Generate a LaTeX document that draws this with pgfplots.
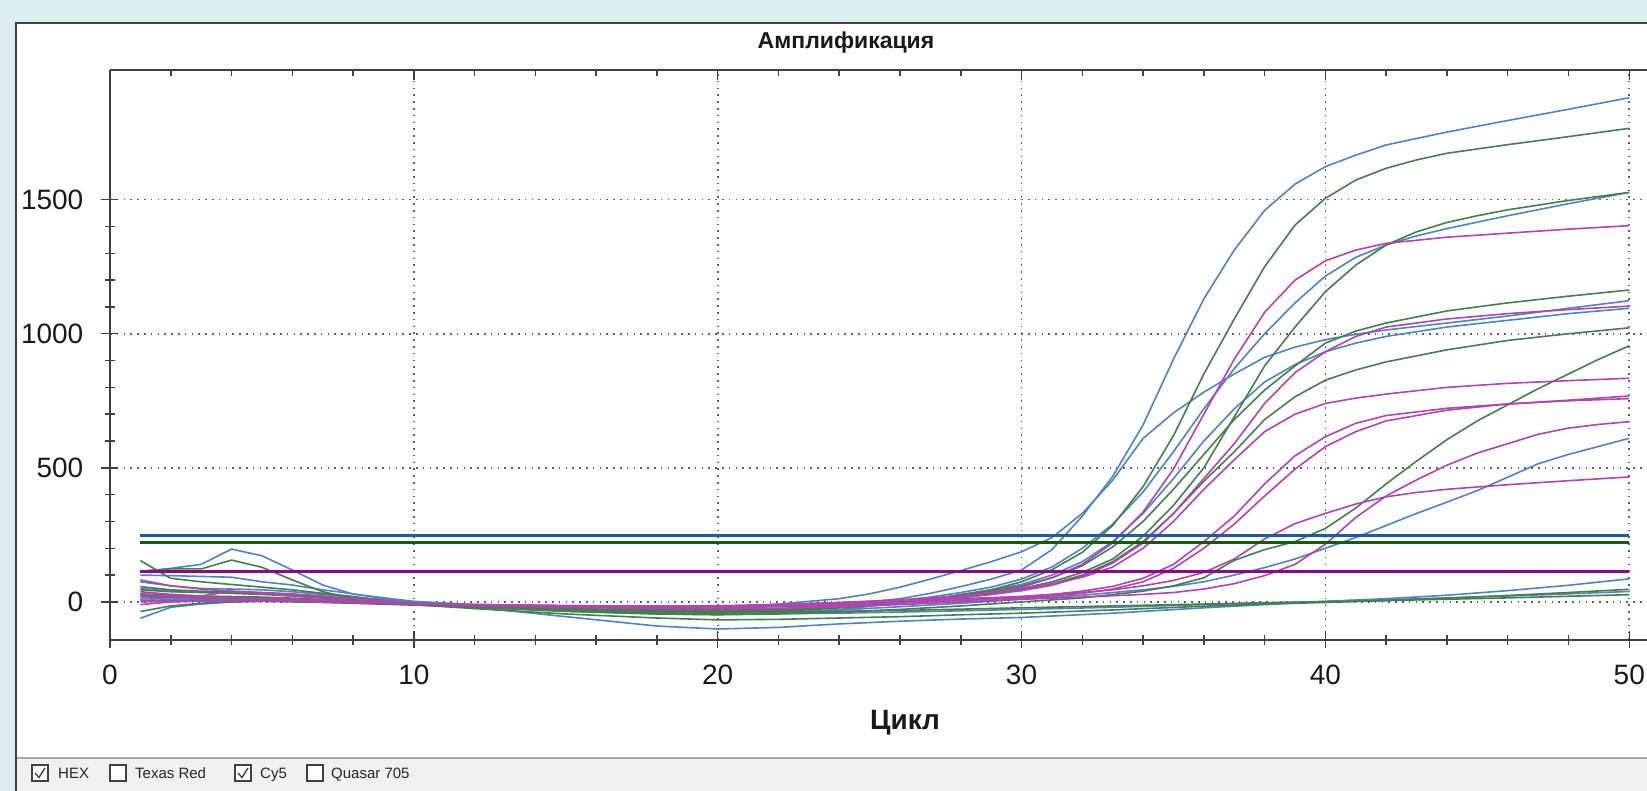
\documentclass[border=0pt]{standalone}
\usepackage{fontspec}
\setmainfont{Liberation Sans}
\usepackage{pgfplots}
\pgfplotsset{compat=1.18}

\definecolor{bgblue}{HTML}{DDEEF3}
\definecolor{axgray}{HTML}{404040}
\definecolor{gridgray}{HTML}{606060}
\definecolor{cB}{HTML}{4F84BE}
\definecolor{cG}{HTML}{467E4E}
\definecolor{cM}{HTML}{B244B2}
\definecolor{thB}{HTML}{1F5C9A}
\definecolor{thG}{HTML}{145A14}
\definecolor{thM}{HTML}{880A88}
\definecolor{barbg}{HTML}{F0F0F0}
\definecolor{sepgray}{HTML}{A8A8A8}

\pgfplotsset{
  crv/.style={line width=1.6pt, line join=round},
  frame/.style={
    at={(110pt,151pt)}, anchor=south west, scale only axis,
    width=1537pt, height=569.6pt,
    xmin=0, xmax=50.586, ymin=-142, ymax=1982,
  },
}

\begin{document}
\begin{tikzpicture}
\useasboundingbox (0,0) rectangle (1647pt,791pt);
\clip (0,0) rectangle (1647pt,791pt);
% window background, panel, status bar
\fill[bgblue] (0,0) rectangle (1647pt,791pt);
\fill[white] (16pt,33pt) rectangle (1660pt,768pt);
\fill[barbg] (16pt,-2pt) rectangle (1660pt,33pt);
\draw[sepgray, line width=2pt] (16pt,33pt) -- (1660pt,33pt);
\draw[axgray, line width=2pt] (16pt,-5pt) -- (16pt,768pt) -- (1660pt,768pt);

% ---- main axis: bottom and left lines, grid, curves ----
\begin{axis}[frame,
  axis x line*=bottom, axis y line*=left,
  axis line style={-, draw=axgray, line width=2pt},
  xtick={0,10,20,30,40,50}, minor x tick num=4,
  ytick={0,500,1000,1500}, minor y tick num=4,
  tick align=center, major tick length=17pt, minor tick length=10pt,
  every tick/.style={draw=axgray, line width=1.5pt},
  grid=major,
  major grid style={draw=gridgray, line width=1.6pt, dash pattern=on 1.6pt off 5.2pt},
  /pgf/number format/1000 sep={},
  /pgf/number format/assume math mode=true,
  xticklabel style={font=\fontsize{28}{30}\selectfont, text=black!90, anchor=north, inner sep=0pt, yshift=-16pt},
  yticklabel style={font=\fontsize{28}{30}\selectfont, text=black!90, anchor=east, inner sep=0pt, xshift=-18pt},
]
% ---- blue curves ----
\addplot[crv, cB] coordinates {(1,20)(2,15)(3,12)(4,12)(5,10)(6,8)(7,5)(8,2)(10,-6)(12,-15)(15,-25)(18,-32)(20,-33)(22,-27)(24,-12)(26,12)(27,32)(28,57)(29,85)(30,119)(31,195)(32,320)(33,468)(34,660)(35,905)(36,1130)(37,1312)(38,1460)(39,1558)(40,1623)(41,1666)(42,1704)(44,1752)(46,1795)(48,1837)(50,1880)};
\addplot[crv, cB] coordinates {(1,113)(2,125)(3,140)(4,197)(5,172)(6,119)(7,63)(8,29)(10,2)(12,-10)(15,-18)(18,-22)(20,-20)(22,-8)(24,12)(25,30)(26,55)(27,85)(28,117)(29,150)(30,187)(31,240)(32,330)(33,454)(34,610)(35,705)(36,782)(37,850)(38,912)(39,950)(40,978)(41,998)(42,1014)(44,1040)(46,1066)(48,1095)(50,1123)};
\addplot[crv, cB] coordinates {(1,100)(2,98)(3,95)(4,92)(5,75)(6,63)(7,45)(8,30)(10,-3)(12,-15)(15,-28)(18,-38)(20,-40)(22,-35)(24,-20)(26,5)(27,18)(28,35)(29,55)(30,85)(31,130)(32,200)(33,290)(34,410)(35,560)(36,720)(37,870)(38,1000)(39,1115)(40,1215)(41,1285)(42,1331)(43,1365)(44,1392)(46,1440)(48,1485)(50,1527)};
\addplot[crv, cB] coordinates {(1,-61)(2,-20)(3,-8)(4,0)(5,3)(6,2)(7,-1)(8,-4)(10,-10)(12,-20)(15,-35)(18,-45)(20,-47)(22,-42)(24,-28)(26,-5)(27,10)(28,28)(29,45)(30,65)(31,100)(32,150)(33,225)(34,330)(35,460)(36,600)(37,720)(38,820)(39,885)(40,933)(41,965)(42,990)(44,1025)(46,1050)(48,1075)(50,1095)};
\addplot[crv, cB] coordinates {(1,13)(2,10)(3,8)(4,10)(5,8)(6,6)(7,4)(8,0)(10,-8)(12,-18)(15,-30)(18,-40)(20,-42)(22,-38)(24,-30)(26,-18)(28,-5)(30,10)(32,25)(34,45)(35,58)(36,75)(37,100)(38,128)(39,160)(40,200)(41,240)(42,285)(43,330)(44,372)(45,415)(46,465)(47,515)(48,550)(49,580)(50,610)};
\addplot[crv, cB] coordinates {(1,75)(2,60)(3,50)(4,48)(5,45)(6,38)(7,28)(8,18)(10,0)(12,-20)(15,-55)(18,-90)(20,-101)(22,-95)(24,-82)(26,-72)(28,-64)(30,-58)(33,-42)(36,-22)(38,-10)(40,2)(42,12)(44,25)(46,42)(48,62)(50,86)};
\addplot[crv, cB] coordinates {(1,50)(2,40)(3,36)(4,34)(5,30)(6,25)(7,18)(8,10)(10,-5)(12,-15)(15,-28)(18,-40)(20,-45)(22,-44)(24,-42)(26,-38)(28,-33)(30,-28)(33,-20)(36,-10)(38,-4)(40,2)(42,8)(44,15)(46,22)(48,30)(50,39)};
% ---- green curves ----
\addplot[crv, cG] coordinates {(1,154)(2,88)(3,75)(4,65)(5,55)(6,45)(7,32)(8,20)(10,-10)(12,-18)(15,-25)(18,-30)(20,-30)(22,-25)(24,-15)(26,0)(27,10)(28,25)(29,45)(30,75)(31,120)(32,185)(33,285)(34,430)(35,620)(36,850)(37,1055)(38,1250)(39,1405)(40,1505)(41,1573)(42,1617)(43,1648)(44,1673)(46,1705)(48,1735)(50,1766)};
\addplot[crv, cG] coordinates {(1,115)(2,123)(3,123)(4,156)(5,129)(6,82)(7,38)(8,13)(10,-10)(12,-20)(15,-30)(18,-36)(20,-36)(22,-30)(24,-18)(26,0)(27,10)(28,20)(29,32)(30,50)(31,75)(32,110)(33,160)(34,245)(35,360)(36,500)(37,690)(38,880)(39,1025)(40,1157)(41,1256)(42,1331)(43,1380)(44,1415)(45,1440)(46,1462)(48,1497)(50,1527)};
\addplot[crv, cG] coordinates {(1,57)(2,45)(3,40)(4,38)(5,34)(6,28)(7,20)(8,12)(10,-8)(12,-18)(15,-28)(18,-35)(20,-36)(22,-30)(24,-18)(26,0)(27,12)(28,25)(29,40)(30,60)(31,90)(32,135)(33,205)(34,300)(35,420)(36,550)(37,680)(38,790)(39,880)(40,965)(41,1010)(42,1040)(44,1085)(46,1115)(48,1140)(50,1163)};
\addplot[crv, cG] coordinates {(1,-36)(2,-15)(3,-5)(4,0)(5,2)(6,0)(7,-2)(8,-5)(10,-12)(12,-20)(15,-32)(18,-40)(20,-42)(22,-36)(24,-22)(26,-5)(27,5)(28,15)(29,28)(30,45)(31,68)(32,100)(33,150)(34,225)(35,330)(36,450)(37,560)(38,680)(39,765)(40,827)(41,865)(42,895)(44,940)(46,975)(48,1000)(50,1022)};
\addplot[crv, cG] coordinates {(1,45)(2,38)(3,35)(4,32)(5,28)(6,22)(7,15)(8,8)(10,-8)(12,-20)(15,-35)(18,-45)(20,-48)(22,-45)(24,-38)(26,-28)(28,-15)(30,0)(32,15)(34,40)(35,60)(36,90)(37,155)(38,195)(39,225)(40,274)(41,350)(42,440)(43,525)(44,605)(45,675)(46,735)(47,795)(48,850)(49,905)(50,955)};
\addplot[crv, cG] coordinates {(1,30)(2,25)(3,22)(4,20)(5,18)(6,14)(7,9)(8,3)(10,-10)(12,-25)(15,-45)(18,-60)(20,-67)(22,-65)(24,-60)(26,-55)(28,-48)(30,-42)(33,-30)(36,-16)(38,-8)(40,-2)(42,5)(44,14)(46,24)(48,35)(50,47)};
\addplot[crv, cG] coordinates {(1,20)(2,18)(3,16)(4,15)(5,13)(6,10)(7,6)(8,2)(10,-8)(12,-18)(15,-30)(18,-38)(20,-40)(22,-38)(24,-35)(26,-32)(28,-27)(30,-22)(33,-15)(36,-8)(38,-3)(40,0)(42,5)(44,10)(46,15)(48,21)(50,27)};
% ---- magenta curves ----
\addplot[crv, cM] coordinates {(1,82)(2,60)(3,48)(4,40)(5,35)(6,30)(7,22)(8,12)(10,-5)(12,-10)(15,-14)(18,-16)(20,-15)(22,-10)(24,-2)(26,8)(27,15)(28,22)(29,35)(30,55)(31,90)(32,140)(33,220)(34,335)(35,495)(36,700)(37,905)(38,1080)(39,1200)(40,1272)(41,1312)(42,1337)(44,1360)(46,1375)(48,1390)(50,1403)};
\addplot[crv, cM] coordinates {(1,38)(2,28)(3,22)(4,40)(5,32)(6,22)(7,14)(8,6)(10,-6)(12,-10)(15,-15)(18,-18)(20,-17)(22,-12)(24,-5)(26,5)(28,18)(29,28)(30,42)(31,62)(32,95)(33,145)(34,220)(35,330)(36,460)(37,590)(38,740)(39,855)(40,933)(41,990)(42,1025)(44,1055)(46,1075)(48,1090)(50,1103)};
\addplot[crv, cM] coordinates {(1,30)(2,22)(3,18)(4,15)(5,13)(6,10)(7,6)(8,2)(10,-6)(12,-10)(15,-14)(18,-17)(20,-16)(22,-12)(24,-6)(26,4)(28,20)(29,35)(30,50)(31,68)(32,92)(33,130)(34,200)(35,300)(36,420)(37,530)(38,635)(39,700)(40,740)(41,760)(42,775)(44,800)(46,815)(48,825)(50,834)};
\addplot[crv, cM] coordinates {(1,26)(2,20)(3,16)(4,14)(5,12)(6,9)(7,5)(8,1)(10,-7)(12,-12)(15,-17)(18,-20)(20,-20)(22,-16)(24,-10)(26,-2)(28,8)(30,20)(31,28)(32,40)(33,58)(34,88)(35,140)(36,225)(37,320)(38,440)(39,545)(40,616)(41,666)(42,695)(44,722)(46,738)(48,752)(50,768)};
\addplot[crv, cM] coordinates {(1,7)(2,5)(3,4)(4,5)(5,5)(6,4)(7,2)(8,0)(10,-6)(12,-12)(15,-18)(18,-22)(20,-22)(22,-18)(24,-12)(26,-4)(28,5)(30,15)(31,22)(32,32)(33,48)(34,75)(35,125)(36,200)(37,290)(38,395)(39,495)(40,579)(41,635)(42,675)(44,715)(46,738)(48,750)(50,758)};
\addplot[crv, cM] coordinates {(1,0)(2,3)(3,5)(4,6)(5,6)(6,4)(7,2)(8,-1)(10,-7)(12,-14)(15,-20)(18,-25)(20,-26)(22,-24)(24,-18)(26,-10)(28,0)(30,10)(32,18)(34,28)(35,35)(36,48)(37,68)(38,98)(39,140)(40,215)(41,315)(42,395)(43,455)(44,510)(45,555)(46,590)(47,625)(48,648)(49,662)(50,672)};
\addplot[crv, cM] coordinates {(1,-10)(2,0)(3,3)(4,5)(5,5)(6,3)(7,1)(8,-2)(10,-8)(12,-12)(15,-15)(18,-16)(20,-15)(22,-10)(24,-3)(26,5)(28,12)(30,20)(32,35)(33,45)(34,60)(35,80)(36,110)(37,160)(38,235)(39,292)(40,330)(41,365)(42,392)(43,408)(44,420)(46,437)(48,452)(50,466)};
% ---- threshold lines ----
\addplot[thB, line width=3pt] coordinates {(1,247)(50,247)};
\addplot[thG, line width=3pt] coordinates {(1,222)(50,222)};
\addplot[thM, line width=3pt] coordinates {(1,115)(50,115)};
\end{axis}

% ---- top frame line with inward ticks ----
\begin{axis}[frame,
  axis x line*=top, axis y line=none,
  axis line style={-, draw=axgray, line width=2pt},
  xtick={0,10,20,30,40,50}, minor x tick num=4, xticklabels={},
  ytick=\empty,
  tick align=inside, major tick length=10pt, minor tick length=6pt,
  every tick/.style={draw=axgray, line width=1.5pt},
]
\addplot[draw=none] coordinates {(0,0)(50,0)};
\end{axis}

% ---- title and axis label ----
\node[font=\fontsize{23}{26}\selectfont\bfseries, text=black!90] at (846pt,748pt) {Амплификация};
\node[anchor=base, font=\fontsize{28}{30}\selectfont\bfseries, text=black!90] at (905pt,61pt) {Цикл};

% ---- channel check boxes ----
\begin{scope}[font=\fontsize{15}{17}\selectfont, text=black!85]
\foreach \bx/\tx/\lbl in {32/58/HEX, 110/135/Texas Red, 235/260/Cy5, 307/331/Quasar 705}{
  \filldraw[fill=white, draw=axgray, line width=1.3pt] (\bx pt,10pt) rectangle ++(16pt,16pt);
  \node[anchor=base west, inner sep=0pt] at (\tx pt,12pt) {\lbl};
}
\draw[axgray, line width=1.4pt] (35pt,18pt) -- (39pt,13.5pt) -- (45pt,23pt);
\draw[axgray, line width=1.4pt] (238pt,18pt) -- (242pt,13.5pt) -- (248pt,23pt);
\end{scope}
\end{tikzpicture}
\end{document}
